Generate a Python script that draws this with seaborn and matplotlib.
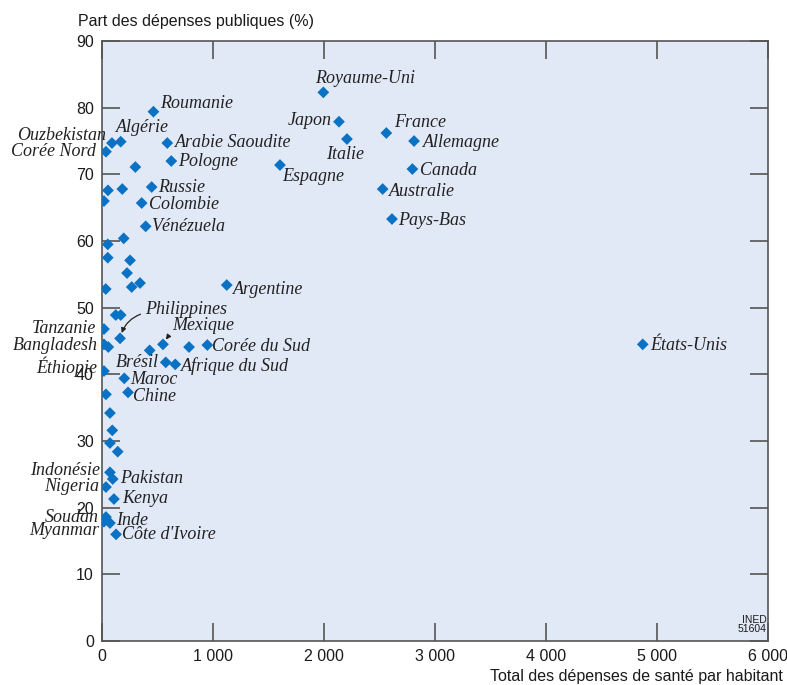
import pandas as pd
import numpy as np
import seaborn as sn
import matplotlib.pyplot as plt

# Données (dépense par habitant, part publique %)
pays = ['Roumanie', 'Ouzbekistan', 'Algérie', 'Corée Nord', 'Arabie Saoudite', 'Pologne',
        'Russie', 'Colombie', 'Vénézuela', 'Argentine', 'Philippines', 'Mexique',
        'Tanzanie', 'Bangladesh', 'Corée du Sud', 'Brésil', 'Afrique du Sud', 'Éthiopie',
        'Maroc', 'Chine', 'Indonésie', 'Pakistan', 'Nigeria', 'Kenya', 'Soudan', 'Inde',
        'Myanmar', "Côte d'Ivoire", 'Royaume-Uni', 'Japon', 'Italie', 'France', 'Allemagne',
        'Espagne', 'Canada', 'Australie', 'Pays-Bas', 'États-Unis']
depense = [461, 87, 166, 33, 586, 622, 445, 355, 391, 1122, 160, 547,
           15, 15, 947, 572, 658, 15, 198, 232, 69, 94, 33, 105, 33, 69,
           15, 124, 1993, 2134, 2206, 2561, 2811, 1602, 2796, 2528, 2612, 4873]
part_pub = [79.4, 74.7, 74.9, 73.4, 74.7, 72.0, 68.1, 65.7, 62.2, 53.4, 45.4, 44.5,
            46.8, 44.5, 44.4, 41.8, 41.5, 40.5, 39.4, 37.3, 25.3, 24.3, 23.1, 21.3, 18.6, 17.7,
            17.9, 16.0, 82.3, 77.9, 75.3, 76.2, 75.0, 71.4, 70.8, 67.8, 63.3, 44.5]

# pays non nommés
autres_dep = [298, 180, 51, 15, 193, 49, 49, 250, 223, 31, 265, 340, 121, 166, 54, 427,
              782, 33, 69, 90, 69, 139]
autres_part = [71.1, 67.8, 67.6, 66.0, 60.4, 59.5, 57.5, 57.1, 55.2, 52.8, 53.1, 53.7, 48.9,
               48.9, 44.1, 43.6, 44.1, 37.0, 34.2, 31.6, 29.7, 28.4]

xticks = [0, 1000, 2000, 3000, 4000, 5000, 6000]
yticks = [0, 10, 20, 30, 40, 50, 60, 70, 80, 90]

# placement des étiquettes (décalage en pixels, alignement)
place = {
    'Roumanie': (7, 8, 'left'), 'Ouzbekistan': (-6, 8, 'right'), 'Algérie': (-5, 14, 'left'),
    'Corée Nord': (-10, 0, 'right'), 'Arabie Saoudite': (8, 1, 'left'), 'Pologne': (7, 0, 'left'),
    'Russie': (6, 0, 'left'), 'Colombie': (7, -1, 'left'), 'Vénézuela': (5, 0, 'left'),
    'Argentine': (6, -4, 'left'), 'Philippines': (25, 29, 'left'), 'Mexique': (9, 19, 'left'),
    'Tanzanie': (-8, 1, 'right'), 'Bangladesh': (-6, -1, 'right'), 'Corée du Sud': (5, -1, 'left'),
    'Brésil': (-7, 0, 'right'), 'Afrique du Sud': (6, -2, 'left'), 'Éthiopie': (-7, 4, 'right'),
    'Maroc': (6, -1, 'left'), 'Chine': (5, -4, 'left'), 'Indonésie': (-10, 2, 'right'),
    'Pakistan': (7, 1, 'left'), 'Nigeria': (-7, 1, 'right'), 'Kenya': (8, 1, 'left'),
    'Soudan': (-7, 0, 'right'), 'Inde': (6, 3, 'left'), 'Myanmar': (-5, -9, 'right'),
    "Côte d'Ivoire": (6, 0, 'left'), 'Royaume-Uni': (-8, 14, 'left'), 'Japon': (-7, 1, 'right'),
    'Italie': (-2, -15, 'center'), 'France': (8, 11, 'left'), 'Allemagne': (9, -1, 'left'),
    'Espagne': (2, -11, 'left'), 'Canada': (8, -1, 'left'), 'Australie': (6, -2, 'left'),
    'Pays-Bas': (6, -1, 'left'), 'États-Unis': (7, -1, 'left'),
}

df = pd.DataFrame({'depense': depense + autres_dep, 'part': part_pub + autres_part})

sn.set_theme(style='ticks', rc={'axes.facecolor': '#e2e9f6', 'axes.edgecolor': '#555555',
                                'axes.linewidth': 1.2})
plt.rcParams['font.family'] = ['Liberation Sans', 'DejaVu Sans']

fig = plt.figure(figsize=(7.87, 6.85), dpi=100)
ax = fig.add_axes([0.130, 0.0642, 0.8455, 0.8759])

sn.scatterplot(data=df, x='depense', y='part', marker='D', s=36, color='#0a72c4',
               edgecolor='none', ax=ax, zorder=3)

for i, nom in enumerate(pays):
    dx, dy, ha = place[nom]
    props = None
    if nom == 'Philippines':
        props = dict(arrowstyle='-|>', color='#222222', lw=0.9, mutation_scale=7,
                     connectionstyle='arc3,rad=0.3', relpos=(0.0, 0.3), shrinkA=1, shrinkB=4)
    elif nom == 'Mexique':
        props = dict(arrowstyle='-|>', color='#222222', lw=0.9, mutation_scale=7,
                     connectionstyle='arc3,rad=0.1', relpos=(0.0, 0.05), shrinkA=1, shrinkB=4)
    ax.annotate(nom, (depense[i], part_pub[i]), xytext=(dx, dy), textcoords='offset pixels',
                ha=ha, va='center', fontsize=13, family='Liberation Serif', style='italic',
                color='#222222', arrowprops=props, annotation_clip=False)

ax.set_xlim(0, 6000)
ax.set_ylim(0, 90)
ax.set_xticks(xticks)
ax.set_yticks(yticks)
ax.set_xticklabels([f'{v:,}'.replace(',', ' ') for v in xticks])
ax.tick_params(direction='in', length=13, width=1.2, color='#555555', top=True, right=True,
               labelsize=11.5, pad=6, labelcolor='#1a1a1a')
ax.set_xlabel('')
ax.set_ylabel('')

fig.text(0.0987, 0.969, 'Part des dépenses publiques (%)', ha='left', va='center',
         fontsize=11.5, color='#1a1a1a')
fig.text(0.995, 0.0117, 'Total des dépenses de santé par habitant', ha='right', va='center',
         fontsize=11.5, color='#1a1a1a')
ax.text(0.998, 0.012, 'INED\n51604', transform=ax.transAxes, ha='right', va='bottom',
        fontsize=7.5, linespacing=0.9, color='#1a1a1a')

plt.savefig('out.png', dpi=100)
plt.close()
